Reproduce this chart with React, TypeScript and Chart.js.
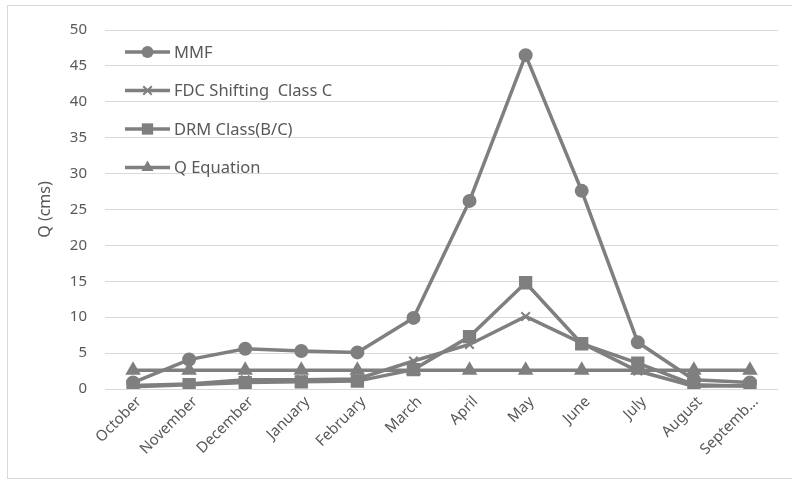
import React, { useEffect, useRef } from "react";
import { Chart, registerables } from "chart.js";

Chart.register(...registerables);

const months = [
  "October", "November", "December", "January", "February", "March",
  "April", "May", "June", "July", "August", "Septemb…",
];
const mmf = [0.9, 4.1, 5.6, 5.3, 5.1, 9.9, 26.2, 46.5, 27.6, 6.5, 1.3, 0.9];
const fdcShifting = [0.5, 0.7, 1.3, 1.3, 1.4, 3.9, 6.2, 10.1, 6.4, 2.5, 0.4, 0.5];
const drmClass = [0.3, 0.6, 0.9, 1.0, 1.1, 2.7, 7.3, 14.8, 6.3, 3.6, 0.6, 0.4];
const qEquation = [2.6, 2.6, 2.6, 2.6, 2.6, 2.6, 2.6, 2.6, 2.6, 2.6, 2.6, 2.6];

const seriesNames = ["MMF", "FDC Shifting  Class C", "DRM Class(B/C)", "Q Equation"];
const seriesValues = [mmf, fdcShifting, drmClass, qEquation];
const markerStyles = ["circle", "crossRot", "rect", "triangle"] as const;
const markerRadii = [6, 6, 8, 7];

const GRAY = "#7f7f7f";
const TEXT = "#595959";
const FONT = "'Noto Sans', 'DejaVu Sans', sans-serif";

// Same marker shapes as the datasets use, for the legend swatches.
function drawMarker(ctx: CanvasRenderingContext2D, style: string, r: number, x: number, y: number) {
  ctx.beginPath();
  if (style === "circle") {
    ctx.arc(x, y, r, 0, Math.PI * 2);
    ctx.fill();
  } else if (style === "rect") {
    const s = Math.SQRT1_2 * r;
    ctx.rect(x - s, y - s, 2 * s, 2 * s);
    ctx.fill();
  } else if (style === "triangle") {
    const a = (Math.PI * 2) / 3;
    ctx.moveTo(x, y - r);
    ctx.lineTo(x + Math.sin(a) * r, y - Math.cos(a) * r);
    ctx.lineTo(x - Math.sin(a) * r, y - Math.cos(a) * r);
    ctx.closePath();
    ctx.fill();
  } else {
    const d = Math.SQRT1_2 * r;
    ctx.moveTo(x - d, y - d);
    ctx.lineTo(x + d, y + d);
    ctx.moveTo(x - d, y + d);
    ctx.lineTo(x + d, y - d);
    ctx.stroke();
  }
}

// Legend drawn inside the plot area: a short line with the series marker, then the name.
const insideLegend = {
  id: "insideLegend",
  afterDraw(chart: any) {
    const { ctx, chartArea } = chart;
    const x0 = chartArea.left + 20;
    const y0 = chartArea.top + 22;
    const rowGap = 38.5;
    ctx.save();
    seriesNames.forEach((name, i) => {
      const y = y0 + i * rowGap;
      ctx.strokeStyle = GRAY;
      ctx.lineWidth = 3.5;
      ctx.beginPath();
      ctx.moveTo(x0, y);
      ctx.lineTo(x0 + 45, y);
      ctx.stroke();
      ctx.fillStyle = GRAY;
      ctx.lineWidth = 2;
      drawMarker(ctx, markerStyles[i], markerRadii[i], x0 + 22.5, y);
      ctx.fillStyle = TEXT;
      ctx.font = `16.5px ${FONT}`;
      ctx.textBaseline = "middle";
      ctx.textAlign = "left";
      ctx.fillText(name, x0 + 49, y + 1);
    });
    ctx.restore();
  },
};

export default function App() {
  const canvasRef = useRef<HTMLCanvasElement | null>(null);

  useEffect(() => {
    if (!canvasRef.current) return;
    const chart = new Chart(canvasRef.current, {
      type: "line",
      data: {
        labels: months,
        datasets: seriesNames.map((name, i) => ({
          label: name,
          data: seriesValues[i],
          borderColor: GRAY,
          backgroundColor: GRAY,
          borderWidth: 3.5,
          pointStyle: markerStyles[i],
          pointRadius: markerRadii[i],
          pointBorderWidth: 2,
          pointBorderColor: GRAY,
          pointBackgroundColor: GRAY,
          tension: 0,
          order: 4 - i,
        })),
      },
      options: {
        animation: false,
        responsive: false,
        layout: { padding: { top: 30, right: 14, bottom: 0, left: 0 } },
        plugins: {
          legend: { display: false },
          tooltip: { enabled: false },
        },
        scales: {
          x: {
            offset: true,
            grid: { display: false, drawTicks: false },
            border: { display: false },
            ticks: {
              color: TEXT,
              font: { family: FONT, size: 15 },
              minRotation: 45,
              maxRotation: 45,
              padding: 4,
              labelOffset: 6,
              autoSkip: false,
            },
            afterFit: (scale: any) => {
              scale.height = 94;
            },
          },
          y: {
            min: 0,
            max: 50,
            grid: { color: "#d9d9d9", lineWidth: 1, drawTicks: false },
            border: { display: false },
            ticks: {
              stepSize: 5,
              color: TEXT,
              font: { family: FONT, size: 15 },
              padding: 18,
            },
            title: {
              display: true,
              text: "Q (cms)",
              color: TEXT,
              font: { family: FONT, size: 16 },
              padding: { top: 36, bottom: 0 },
            },
            afterFit: (scale: any) => {
              scale.width = 105;
            },
          },
        },
      },
      plugins: [insideLegend],
    });
    return () => chart.destroy();
  }, []);

  return (
    <div style={{ position: "absolute", left: 0, top: 0, width: 792, height: 483, background: "#fff", overflow: "hidden" }}>
      <div
        style={{
          position: "absolute",
          left: 7,
          top: 5,
          width: 800,
          height: 474,
          borderLeft: "1px solid #d9d9d9",
          borderTop: "1px solid #d9d9d9",
          borderBottom: "1px solid #d9d9d9",
          boxSizing: "border-box",
        }}
      />
      <canvas ref={canvasRef} width={792} height={483} style={{ position: "absolute", left: 0, top: 0 }} />
    </div>
  );
}
